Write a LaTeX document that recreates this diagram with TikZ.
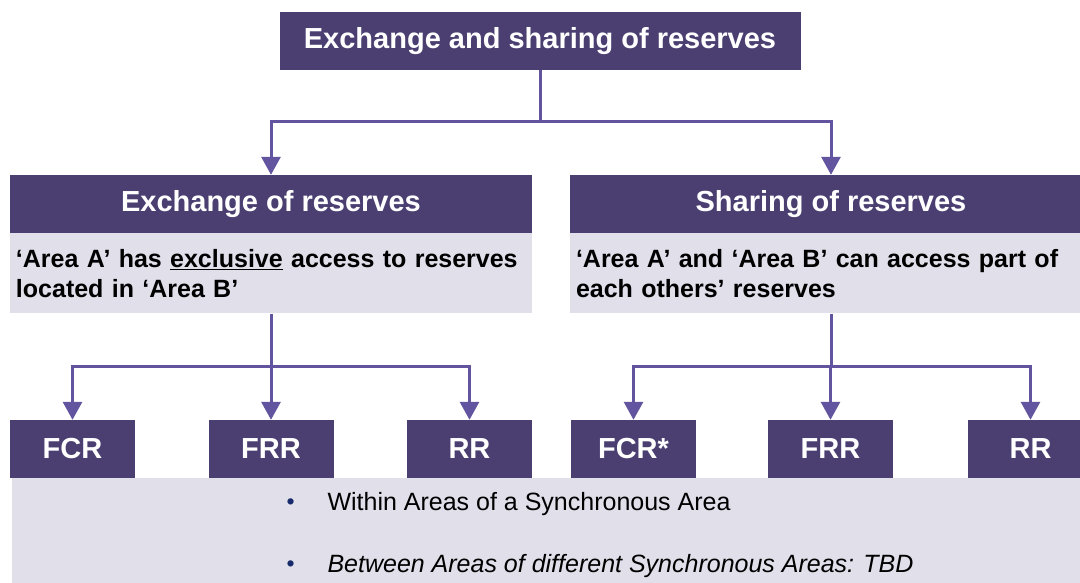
\documentclass[tikz,border=0pt]{standalone}
\usepackage{fontspec}
\setmainfont{Liberation Sans}
\usetikzlibrary{arrows.meta}
\definecolor{boxpurple}{RGB}{75,63,114}
\definecolor{boxgray}{RGB}{224,223,234}
\definecolor{linepurple}{RGB}{98,84,158}
\definecolor{bulletnavy}{RGB}{22,42,108}
\newcommand{\bulletitem}{\makebox[41pt][l]{\textcolor{bulletnavy}{\fontsize{23}{23}\selectfont\raisebox{1pt}{\textbullet}}}}

\begin{document}
\begin{tikzpicture}[x=1pt,y=1pt,
    head/.style={fill=boxpurple,text=white,font=\bfseries\fontsize{29}{34}\selectfont,minimum height=58pt,inner sep=0pt},
    body/.style={fill=boxgray,font=\bfseries\fontsize{25}{30}\selectfont,minimum height=80pt,text width=510pt,align=left,inner xsep=6pt,inner ysep=0pt},
    reserve/.style={head,minimum width=125pt},
    link/.style={draw=linepurple,line width=3pt},
    arr/.style={link,-{Triangle[width=19pt,length=18pt]}}]
    \clip (0,0) rectangle (1080,-583);

    % top of the tree
    \node[head,minimum width=521pt] (top) at (540,-41) {Exchange and sharing of reserves};
    \coordinate (topfork) at (540,-122);

    % exchange
    \node[head,minimum width=522pt] (exch) at (271,-204) {Exchange of reserves};
    \node[body,anchor=north] (exchtxt) at (exch.south) {‘Area A’ has \underline{exclusive} access to reserves\\located in ‘Area B’};
    \coordinate (exchfork) at (271,-366);

    % sharing
    \node[head,minimum width=522pt] (share) at (831,-204) {Sharing of reserves};
    \node[body,anchor=north] (sharetxt) at (share.south) {‘Area A’ and ‘Area B’ can access part of\\each others’ reserves};
    \coordinate (sharefork) at (831,-366);

    % note at the bottom
    \node[fill=boxgray,anchor=north west,minimum width=1090pt,minimum height=110pt,inner sep=0pt] (note) at (12,-478) {};
    \node[anchor=base west,font=\fontsize{25}{30}\selectfont] (within) at (283,-510) {\bulletitem Within Areas of a Synchronous Area};
    \node[anchor=base west,font=\fontsize{25}{30}\selectfont] (between) at (283,-572) {\bulletitem\textit{Between Areas of different Synchronous Areas: TBD}};

    % reserve types
    \node[reserve] (fcrA) at (72.5,-449) {FCR};
    \node[reserve] (frrA) at (271,-449) {FRR};
    \node[reserve] (rrA) at (469.5,-449) {RR};
    \node[reserve] (fcrB) at (633.5,-449) {FCR*};
    \node[reserve] (frrB) at (830.5,-449) {FRR};
    \node[reserve] (rrB) at (1030.5,-449) {RR};

    % connectors
    \draw[link] (top.south) -- (topfork);
    \draw[arr] (topfork) -| (exch.north);
    \draw[arr] (topfork) -| (share.north);

    \draw[link] (exchtxt.south) -- (exchfork);
    \foreach \n in {fcrA,frrA,rrA}
        \draw[arr] (exchfork) -| (\n.north);

    \draw[link] (sharetxt.south) -- (sharefork);
    \foreach \n in {fcrB,frrB,rrB}
        \draw[arr] (sharefork) -| (\n.north);
\end{tikzpicture}
\end{document}
